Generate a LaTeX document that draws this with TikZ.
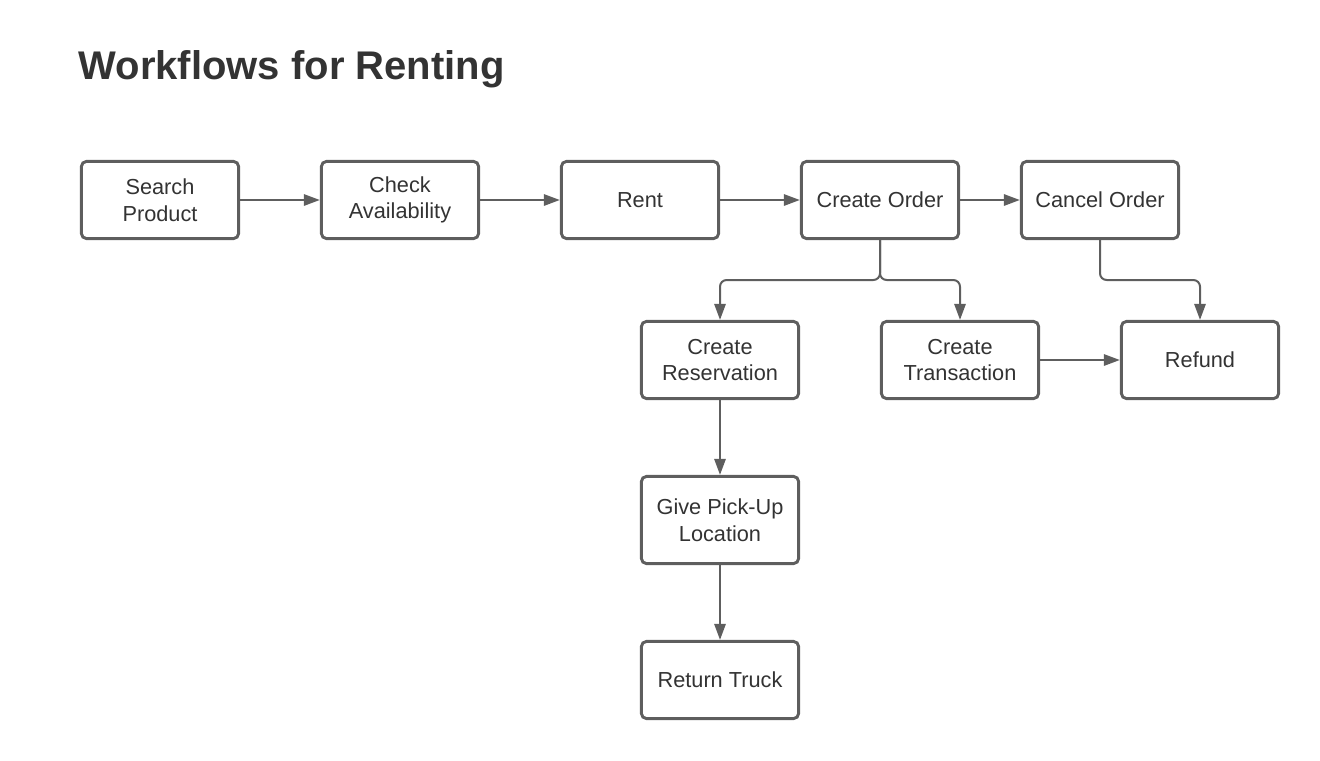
\documentclass[tikz,border=0pt]{standalone}
\usepackage{fontspec}
\setmainfont{Liberation Sans}
\usetikzlibrary{arrows.meta}
\definecolor{edge}{HTML}{5E5E5E}
\definecolor{txt}{HTML}{333333}
\begin{document}
\begin{tikzpicture}[x=0.75pt,y=-0.75pt,
  box/.style={draw=edge, line width=2.2pt, rounded corners=4pt, fill=white,
    minimum width=118pt, minimum height=58pt, inner sep=0pt, align=center,
    text=txt, font=\fontsize{16.3}{20}\selectfont},
  conn/.style={draw=edge, line width=1.5pt, rounded corners=5pt,
    -{Triangle[length=12pt,width=8.5pt]}}]
\useasboundingbox (0,0) rectangle (1320,760);
\node[anchor=west, text=txt, font=\fontsize{30}{36}\selectfont\bfseries] (title) at (74,69) {Workflows for Renting};
\node[box] (search) at (160,200) {Search\\Product};
\node[box] (check) at (400,200) {Check\\Availability};
\node[box] (rent) at (640,200) {Rent};
\node[box] (order) at (880,200) {Create Order};
\node[box] (cancel) at (1100,200) {Cancel Order};
\node[box] (resv) at (720,360) {Create\\Reservation};
\node[box] (trans) at (960,360) {Create\\Transaction};
\node[box] (refund) at (1200,360) {Refund};
\node[box, minimum height=65.5pt] (pick) at (720,520) {Give Pick-Up\\Location};
\node[box] (ret) at (720,680) {Return Truck};
\draw[conn] (search) -- (check);
\draw[conn] (check) -- (rent);
\draw[conn] (rent) -- (order);
\draw[conn] (order) -- (cancel);
\draw[conn] (order.south) |- (800,280) -| (resv.north);
\draw[conn] (order.south) |- (900,280) -| (trans.north);
\draw[conn] (cancel.south) |- (1150,280) -| (refund.north);
\draw[conn] (trans) -- (refund);
\draw[conn] (resv) -- (pick);
\draw[conn] (pick) -- (ret);
\end{tikzpicture}
\end{document}
